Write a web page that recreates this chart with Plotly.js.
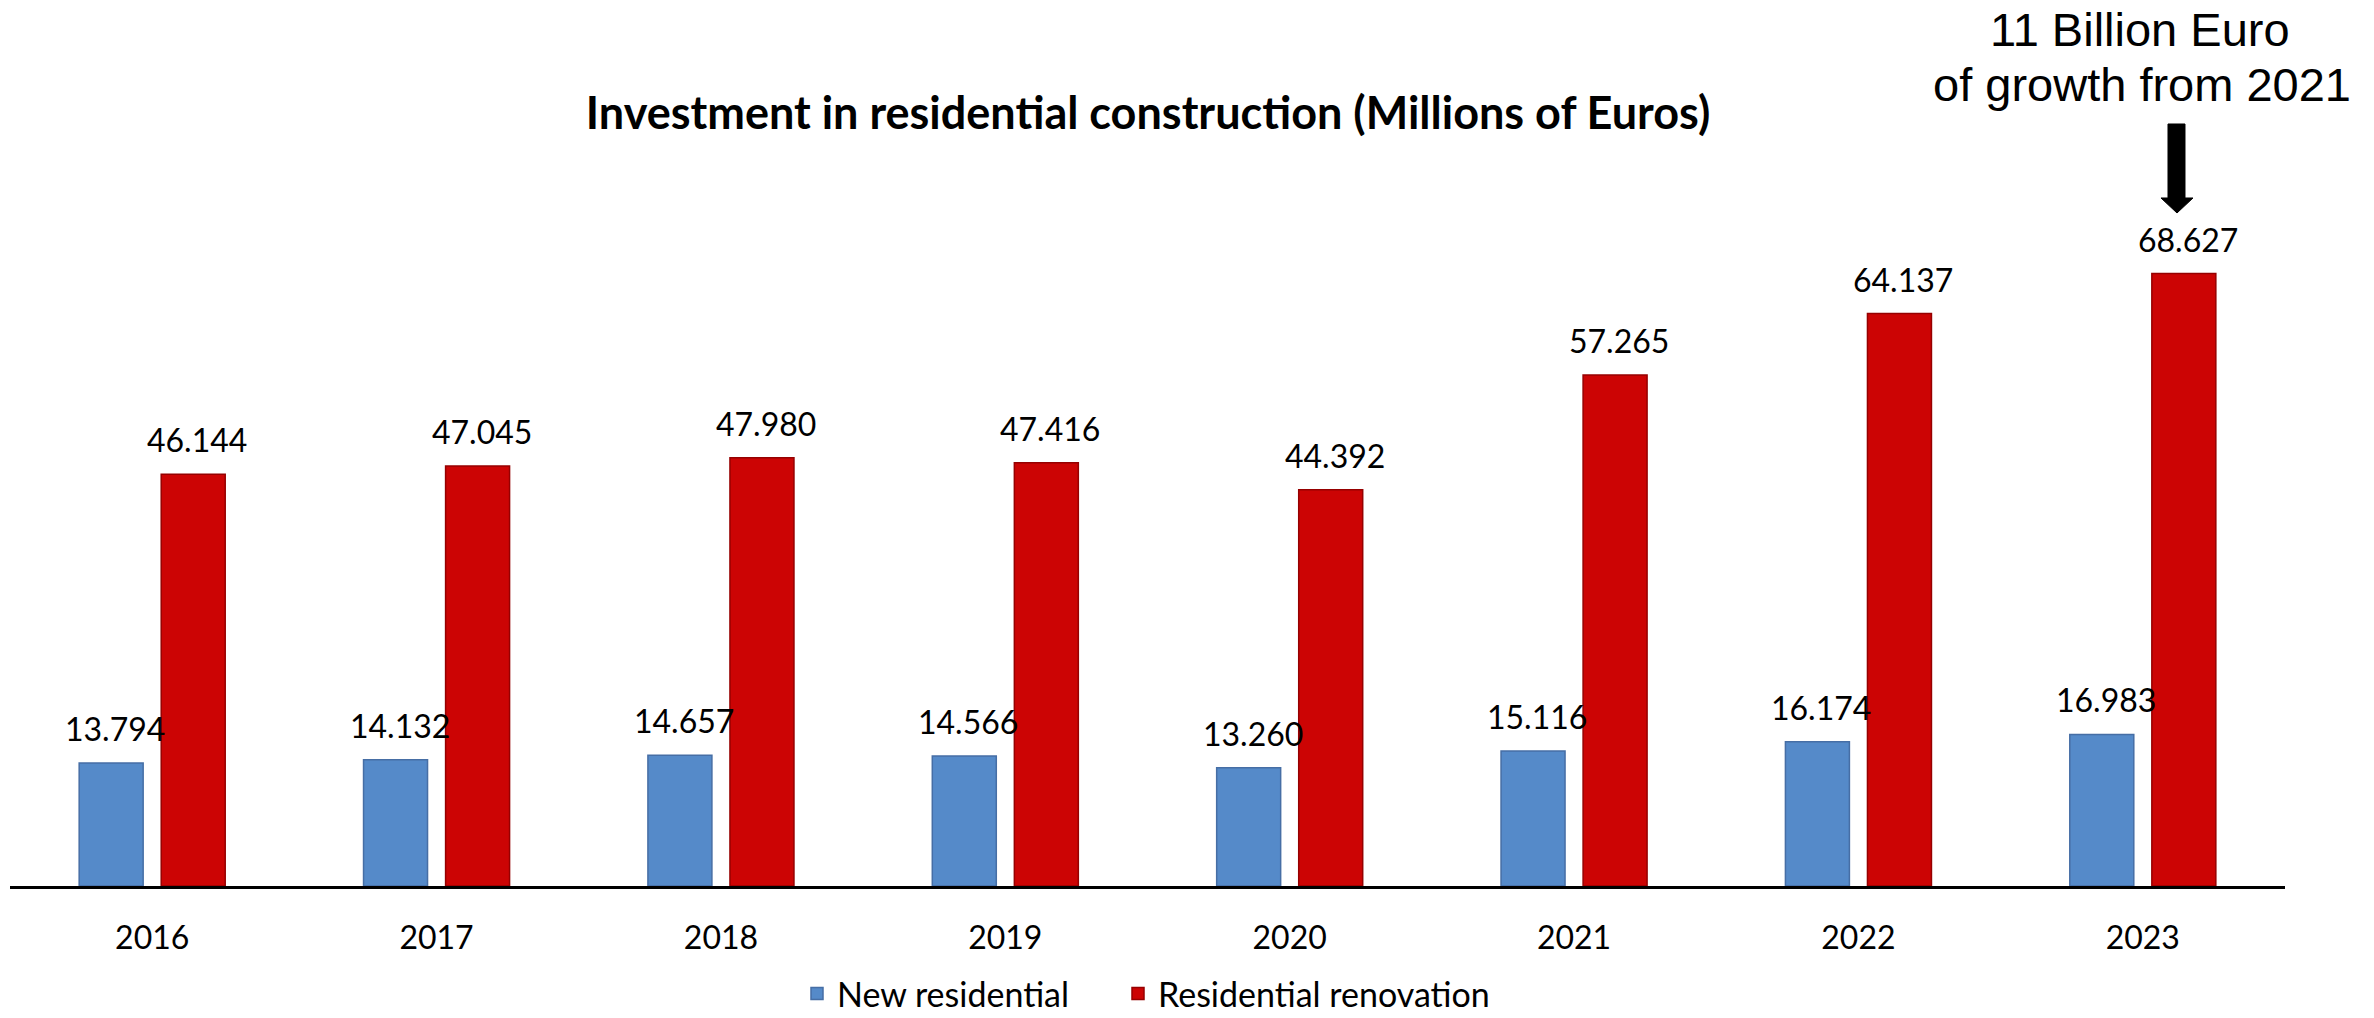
<!DOCTYPE html>
<html>
<head>
<meta charset="utf-8">
<script src="https://cdn.plot.ly/plotly-3.0.1.min.js"></script>
<style>html,body{margin:0;padding:0;background:#fff;}#chart{width:2374px;height:1018px;}</style>
</head>
<body>
<div id="chart"></div>
<script>
const years = ['2016','2017','2018','2019','2020','2021','2022','2023'];
const newResidential = [13.794, 14.132, 14.657, 14.566, 13.260, 15.116, 16.174, 16.983];
const renovation = [46.144, 47.045, 47.980, 47.416, 44.392, 57.265, 64.137, 68.627];
const newLabels = ['13.794','14.132','14.657','14.566','13.260','15.116','16.174','16.983'];
const renoLabels = ['46.144','47.045','47.980','47.416','44.392','57.265','64.137','68.627'];
const seriesNames = ['New residential', 'Residential renovation'];
const calloutLines = ['11 Billion Euro', 'of growth from 2021'];
const chartTitle = 'Investment in residential construction (Millions of Euros)';

const W = 2374, H = 1018;
const M = {l: 10, r: 89, t: 100, b: 132, autoexpand: false};
const plotW = W - M.l - M.r, plotH = H - M.t - M.b;
const yMax = plotH / 8.925;
const px2x = p => (p - M.l) / plotW;
const px2y = p => (H - M.b - p) / plotH;

const labelFont = {family: 'Lato, Carlito, Calibri, sans-serif', size: 32, color: '#000'};

const traces = [
  {type: 'bar', name: seriesNames[0], x: years, y: newResidential, legend: 'legend',
   marker: {color: 'rgb(85,138,201)', line: {color: 'rgb(70,110,165)', width: 1.5}}},
  {type: 'bar', name: seriesNames[1], x: years, y: renovation, legend: 'legend2',
   marker: {color: 'rgb(204,4,4)', line: {color: 'rgb(150,0,0)', width: 1.5}}}
];

const annotations = [];
years.forEach((yr, i) => {
  annotations.push({x: i, y: newResidential[i], xref: 'x', yref: 'y', text: newLabels[i],
    showarrow: false, xanchor: 'center', yanchor: 'bottom', xshift: -37, yshift: 13, font: labelFont});
  annotations.push({x: i, y: renovation[i], xref: 'x', yref: 'y', text: renoLabels[i],
    showarrow: false, xanchor: 'center', yanchor: 'bottom', xshift: 45, yshift: 13, font: labelFont});
});
const calloutFont = {family: 'Liberation Sans, Arial, sans-serif', size: 47, color: '#000'};
annotations.push({xref: 'paper', yref: 'paper', x: px2x(2140), y: px2y(29), text: calloutLines[0],
  showarrow: false, xanchor: 'center', yanchor: 'middle', font: calloutFont});
annotations.push({xref: 'paper', yref: 'paper', x: px2x(2142), y: px2y(84), text: calloutLines[1],
  showarrow: false, xanchor: 'center', yanchor: 'middle', font: calloutFont});

const ap = [[2168,124],[2185,124],[2185,198],[2193,198],[2177,213],[2161,198],[2168,198]];
const arrowPath = 'M' + ap.map(p => px2x(p[0]).toFixed(5) + ',' + px2y(p[1]).toFixed(5)).join(' L') + ' Z';

const legendFont = {family: 'Lato, Carlito, Calibri, sans-serif', size: 34, color: '#000'};

const layout = {
  width: W, height: H,
  margin: M,
  paper_bgcolor: '#fff', plot_bgcolor: '#fff',
  barmode: 'group', bargap: 0.423, bargroupgap: 0.22,
  title: {text: '<b>' + chartTitle + '</b>', x: 1148 / W, xanchor: 'center', xref: 'container',
          y: 1 - 113 / H, yanchor: 'middle', yref: 'container',
          font: {family: 'Lato, Carlito, Calibri, sans-serif', size: 45, color: '#000'}},
  xaxis: {type: 'category', range: [-0.5, years.length - 0.5], autorange: false,
          showline: true, linecolor: '#000', linewidth: 2.5, ticks: '',
          showgrid: false, zeroline: false, ticklabelstandoff: 22,
          tickfont: {family: 'Lato, Carlito, Calibri, sans-serif', size: 32, color: '#000'}},
  yaxis: {range: [0, yMax], autorange: false, visible: false, showgrid: false, zeroline: false},
  showlegend: true,
  legend: {orientation: 'h', x: px2x(797), xanchor: 'left', y: px2y(994), yanchor: 'middle',
           font: legendFont, bgcolor: 'rgba(0,0,0,0)'},
  legend2: {orientation: 'h', x: px2x(1118), xanchor: 'left', y: px2y(994), yanchor: 'middle',
           font: legendFont, bgcolor: 'rgba(0,0,0,0)'},
  annotations: annotations,
  shapes: [{type: 'path', xref: 'paper', yref: 'paper', path: arrowPath,
            fillcolor: '#000', line: {color: '#000', width: 1}}]
};

Plotly.newPlot('chart', traces, layout, {displayModeBar: false, staticPlot: true});
</script>
</body>
</html>
